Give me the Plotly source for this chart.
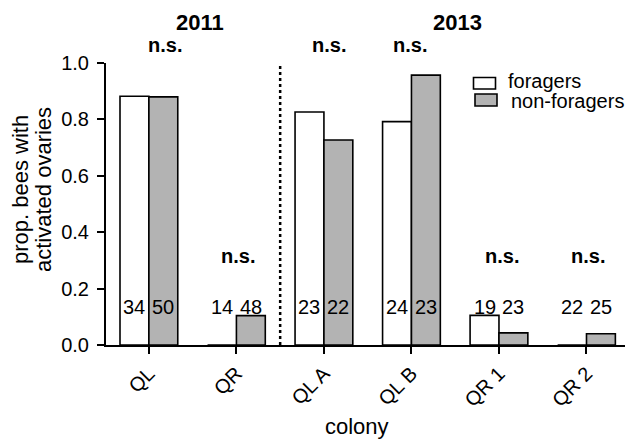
import plotly.graph_objects as go

# Proportion of bees with activated ovaries per colony
colonies = ["QL", "QR", "QL A", "QL B", "QR 1", "QR 2"]
foragers = [0.882, 0.0, 0.826, 0.792, 0.105, 0.0]
non_foragers = [0.880, 0.104, 0.727, 0.957, 0.043, 0.040]
n_foragers = [34, 14, 23, 24, 19, 22]
n_non_foragers = [50, 48, 22, 23, 23, 25]
significance = ["n.s.", "n.s.", "n.s.", "n.s.", "n.s.", "n.s."]
years = ["2011", "2013"]
y_title = ["prop. bees with", "activated ovaries"]

FONT = "Liberation Sans, Arial, sans-serif"
GREY = "#b3b3b3"
BAR_W = 0.33

L, T, B, R = 106, 63, 95, 0
W, H = 625, 440
PW, PH = W - L - R, H - T - B

def px(x):
    return (x - L) / PW

def py(y):
    return (H - B - y) / PH

def txt(size):
    return dict(size=size, color="black", family=FONT)

xs = list(range(len(colonies)))

fig = go.Figure()
fig.add_trace(go.Bar(
    x=xs, y=foragers, width=BAR_W, offset=-BAR_W, name="foragers",
    marker=dict(color="white", line=dict(color="black", width=1.6)),
    showlegend=False,
))
fig.add_trace(go.Bar(
    x=xs, y=non_foragers, width=BAR_W, offset=0, name="non-foragers",
    marker=dict(color=GREY, line=dict(color="black", width=1.6)),
    showlegend=False,
))

ann = []
# sample sizes inside the bars
for i in xs:
    ann.append(dict(x=i - BAR_W / 2, y=0.136, text=str(n_foragers[i]), showarrow=False,
                    xanchor="center", yanchor="middle", font=txt(20)))
    ann.append(dict(x=i + BAR_W / 2, y=0.136, text=str(n_non_foragers[i]), showarrow=False,
                    xanchor="center", yanchor="middle", font=txt(20)))

# significance labels: high row for tall bars, low row for short ones
sig_pos = [(0.18, 1.064), (0.02, 0.316), (0.06, 1.064), (-0.02, 1.064), (0.03, 0.316), (0.02, 0.316)]
for i, (dx, yy) in enumerate(sig_pos):
    ann.append(dict(x=i + dx, xref="x", y=yy, yref="paper", text="<b>%s</b>" % significance[i],
                    showarrow=False, xanchor="center", yanchor="middle", font=txt(20)))

# year headers
for xx, t in zip([0.58, 3.53], years):
    ann.append(dict(x=xx, xref="x", y=1.145, yref="paper", text="<b>%s</b>" % t,
                    showarrow=False, xanchor="center", yanchor="middle", font=txt(22)))

# axis titles (two rotated lines for y)
for xpix, line in zip([20, 43], y_title):
    ann.append(dict(xref="paper", yref="paper", x=px(xpix), y=py(190),
                    text=line, textangle=-90, xanchor="center", yanchor="middle",
                    showarrow=False, font=txt(22)))
ann.append(dict(xref="paper", yref="paper", x=px(357), y=py(427),
                text="colony", showarrow=False, xanchor="center", yanchor="middle",
                font=txt(22)))

# divider between years and legend boxes
shapes = [
    dict(type="line", x0=1.5, x1=1.5, y0=0, y1=1.01, xref="x", yref="y",
         line=dict(color="black", width=2.5, dash="dot")),
    dict(type="rect", xref="paper", yref="paper", x0=px(473.5), x1=px(495.5),
         y0=py(89), y1=py(77.5), fillcolor="white", line=dict(color="black", width=1.6)),
    dict(type="rect", xref="paper", yref="paper", x0=px(475), x1=px(497),
         y0=py(106), y1=py(94), fillcolor=GREY, line=dict(color="black", width=1.6)),
]
ann.append(dict(xref="paper", yref="paper", x=px(506), y=py(80.5), xanchor="left",
                yanchor="middle", text="foragers", showarrow=False, font=txt(20)))
ann.append(dict(xref="paper", yref="paper", x=px(508.5), y=py(100.5), xanchor="left",
                yanchor="middle", text="non-foragers", showarrow=False, font=txt(20)))

fig.update_layout(
    width=W, height=H,
    margin=dict(l=L, r=R, t=T, b=B, pad=0),
    plot_bgcolor="white", paper_bgcolor="white",
    barmode="overlay",
    annotations=ann, shapes=shapes,
    font=dict(family=FONT, color="black"),
)
fig.update_xaxes(
    range=[-0.49, 5.44], tickvals=xs, ticktext=colonies, tickangle=-45,
    showline=True, linecolor="black", linewidth=2,
    ticks="outside", ticklen=7, tickwidth=2, tickcolor="black",
    showgrid=False, zeroline=False, tickfont=txt(20),
)
fig.update_yaxes(
    range=[0, 1.0], tickvals=[0, 0.2, 0.4, 0.6, 0.8, 1.0], tickformat=".1f",
    showline=True, linecolor="black", linewidth=2,
    ticks="outside", ticklen=7, tickwidth=2, tickcolor="black",
    ticklabelstandoff=4,
    showgrid=False, zeroline=False, tickfont=txt(20),
)

fig.write_html("out.html")
